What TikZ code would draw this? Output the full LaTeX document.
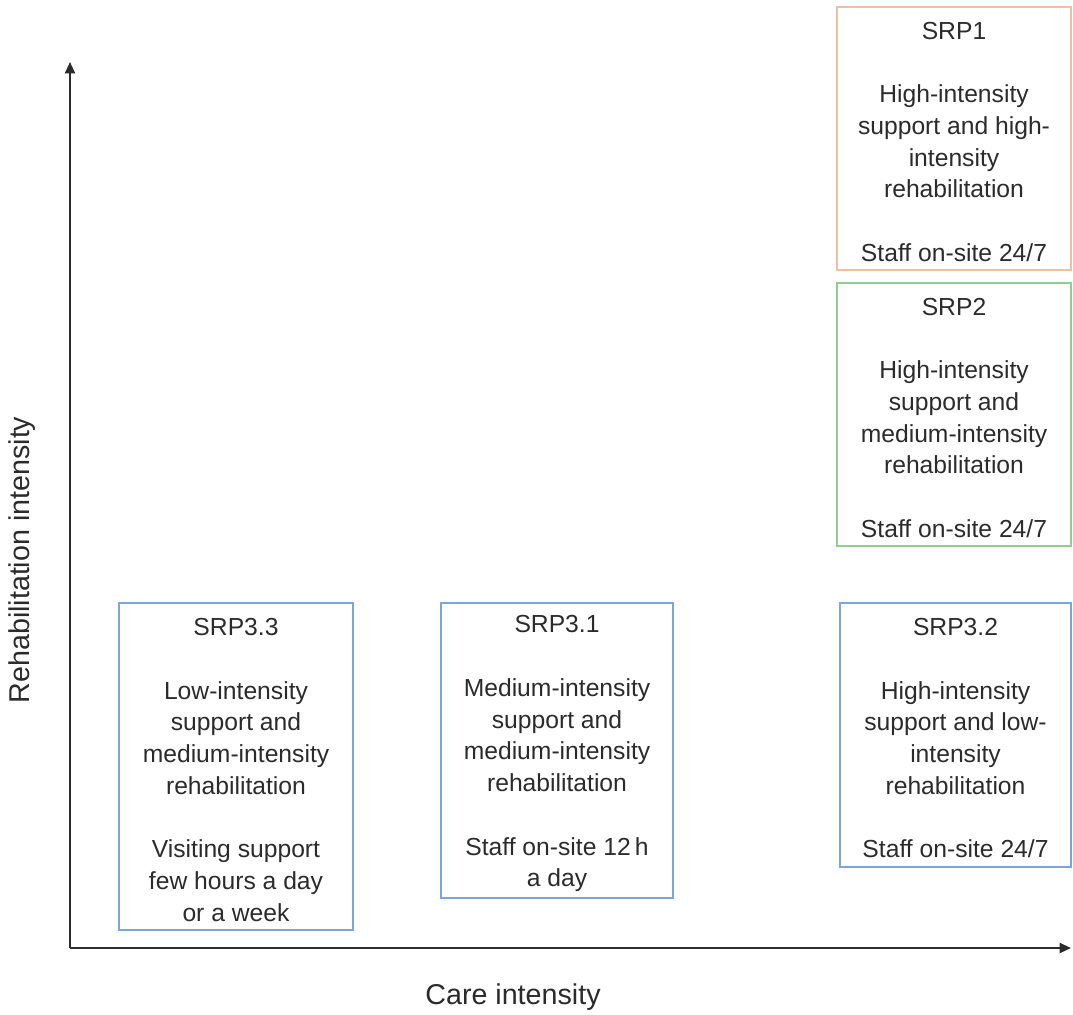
\documentclass[tikz,border=0pt]{standalone}
\usepackage{fontspec}
\setmainfont{Liberation Sans}
\usetikzlibrary{arrows.meta,fit}
\definecolor{txt}{HTML}{2B2B2B}
\definecolor{orangeb}{HTML}{EDBFA3}
\definecolor{greenb}{HTML}{93CC93}
\definecolor{blueb}{HTML}{7DA6D6}
\begin{document}
\begin{tikzpicture}[x=0.75pt,y=-0.75pt,
  box/.style={draw, line width=1pt, inner sep=0pt},
  btext/.style={align=center, text=txt, inner sep=0pt,
    font=\fontsize{18.5}{23.8}\selectfont},
  axis/.style={draw=txt, line width=1.5pt, -{Triangle[length=8.5pt,width=7.5pt]}},
  axlabel/.style={text=txt, font=\fontsize{21.5}{26}\selectfont}]
\useasboundingbox (0,0) rectangle (1073,1014);

\node (srp1) [box, draw=orangeb, fit={(837,7) (1071,270)}] {};
\node (srp1t) [btext] at ([yshift=-2.5pt]srp1.center)
  {SRP1\\[23.8pt]High-intensity\\support and high-\\intensity\\rehabilitation\\[23.8pt]Staff on-site 24/7};
\node (srp2) [box, draw=greenb, fit={(837,283) (1071,546)}] {};
\node (srp2t) [btext] at ([yshift=-2.5pt]srp2.center)
  {SRP2\\[23.8pt]High-intensity\\support and\\medium-intensity\\rehabilitation\\[23.8pt]Staff on-site 24/7};
\node (srp33) [box, draw=blueb, fit={(119,603) (353,930)}] {};
\node (srp33t) [btext] at ([yshift=-2.5pt]srp33.center)
  {SRP3.3\\[23.8pt]Low-intensity\\support and\\medium-intensity\\rehabilitation\\[23.8pt]Visiting support\\few hours a day\\or a week};
\node (srp31) [box, draw=blueb, fit={(441,603) (673,898)}] {};
\node (srp31t) [btext] at ([yshift=-2.5pt]srp31.center)
  {SRP3.1\\[23.8pt]Medium-intensity\\support and\\medium-intensity\\rehabilitation\\[23.8pt]Staff on-site 12\,h\\a day};
\node (srp32) [box, draw=blueb, fit={(840,603) (1071,867)}] {};
\node (srp32t) [btext] at ([yshift=-2.5pt]srp32.center)
  {SRP3.2\\[23.8pt]High-intensity\\support and low-\\intensity\\rehabilitation\\[23.8pt]Staff on-site 24/7};

\coordinate (origin) at (70,948);
\coordinate (ytip) at (70,62);
\coordinate (xtip) at (1071,948);
\draw[axis] (origin) -- (ytip);
\draw[axis] (origin) -- (xtip);

\node (ylab) [axlabel, rotate=90] at (22,560) {Rehabilitation intensity};
\node (xlab) [axlabel] at (513,997) {Care intensity};
\end{tikzpicture}
\end{document}
